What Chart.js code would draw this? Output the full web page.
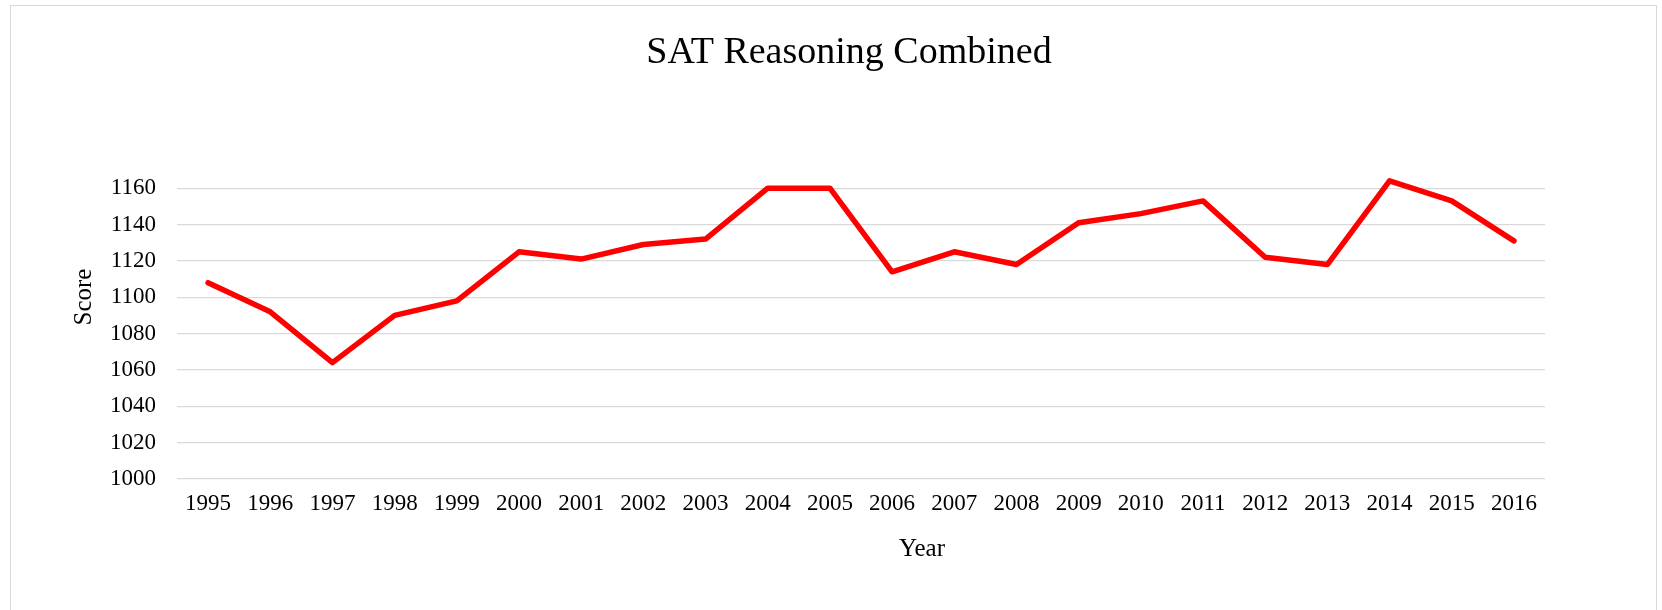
<!DOCTYPE html>
<html>
<head>
<meta charset="utf-8">
<title>SAT Reasoning Combined</title>
<script src="https://cdn.jsdelivr.net/npm/chart.js@4"></script>
<style>
    body { margin: 0; background: #fff; }
    #wrap { position: relative; width: 1662px; height: 610px; overflow: hidden; }
    #frame { position: absolute; left: 10px; top: 5px; width: 1645px; height: 700px; border: 1px solid #d9d9d9; }
    canvas { position: absolute; left: 0; top: 0; }
</style>
</head>
<body>
<div id="wrap">
    <div id="frame"></div>
    <canvas id="chart" width="1662" height="610"></canvas>
</div>
<script>
// Chart data
const chartTitle = 'SAT Reasoning Combined';
const xTitle = 'Year';
const yTitle = 'Score';
const years = ['1995', '1996', '1997', '1998', '1999', '2000', '2001', '2002', '2003', '2004', '2005',
               '2006', '2007', '2008', '2009', '2010', '2011', '2012', '2013', '2014', '2015', '2016'];
const scores = [1108, 1092, 1064, 1090, 1098, 1125, 1121, 1129, 1132, 1160, 1160,
                1114, 1125, 1118, 1141, 1146, 1153, 1122, 1118, 1164, 1153, 1131];
const yTicks = [1000, 1020, 1040, 1060, 1080, 1100, 1120, 1140, 1160];

const serif = '"Liberation Serif", "Times New Roman", serif';

// Draw chart title and axis titles where Excel puts them
const excelTitles = {
    id: 'excelTitles',
    afterDraw(chart) {
        const { ctx, chartArea } = chart;
        ctx.save();
        ctx.fillStyle = '#000';
        ctx.textAlign = 'center';
        ctx.textBaseline = 'middle';

        ctx.font = '38px ' + serif;
        ctx.fillText(chartTitle, 849, 53);

        ctx.font = '25px ' + serif;
        ctx.fillText(xTitle, chartArea.left + (chartArea.right - chartArea.left) / 2 + 61, 549);

        ctx.translate(84, 297);
        ctx.rotate(-Math.PI / 2);
        ctx.fillText(yTitle, 0, 0);
        ctx.restore();
    }
};

const ctx = document.getElementById('chart').getContext('2d');
new Chart(ctx, {
    type: 'line',
    data: {
        labels: years,
        datasets: [{
            label: 'Score',
            data: scores,
            borderColor: '#ff0000',
            borderWidth: 5.5,
            borderJoinStyle: 'round',
            borderCapStyle: 'round',
            pointRadius: 0,
            tension: 0,
            fill: false
        }]
    },
    options: {
        responsive: false,
        animation: false,
        layout: {
            padding: { left: 0, right: 117, top: 170, bottom: 0 }
        },
        plugins: {
            legend: { display: false },
            title: { display: false },
            tooltip: { enabled: false }
        },
        scales: {
            x: {
                offset: true,
                grid: { display: false, drawTicks: false },
                border: { display: false },
                ticks: {
                    color: '#000',
                    font: { family: serif, size: 23 },
                    padding: 11,
                    maxRotation: 0,
                    autoSkip: false
                },
                afterFit: scale => { scale.height = 131; }
            },
            y: {
                min: 1000,
                max: 1170,
                grid: { color: '#d9d9d9', lineWidth: 1.3, drawTicks: false },
                border: { display: false },
                ticks: {
                    color: '#000',
                    font: { family: serif, size: 23 },
                    padding: 21,
                    callback: value => String(value)
                },
                afterBuildTicks: scale => { scale.ticks = yTicks.map(v => ({ value: v })); },
                afterFit: scale => { scale.width = 177; }
            }
        }
    },
    plugins: [excelTitles]
});
</script>
</body>
</html>
